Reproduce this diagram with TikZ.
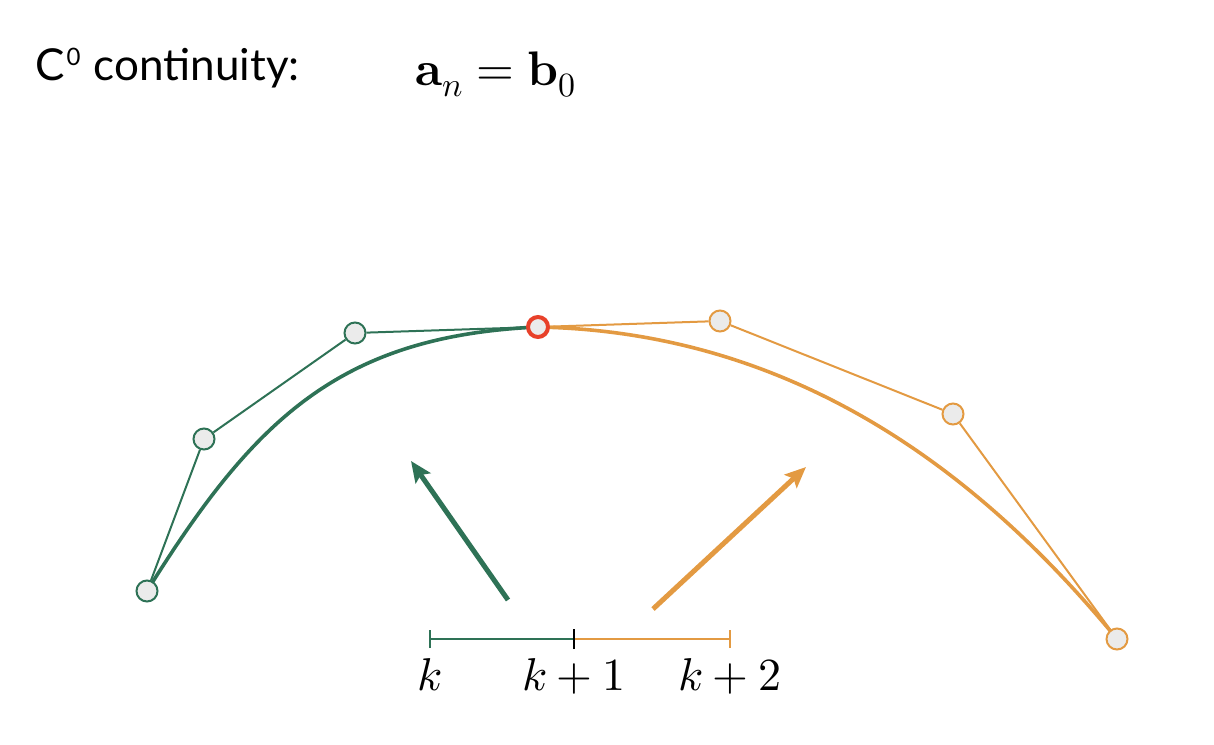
\documentclass[tikz,border=0pt]{standalone}
\usepackage{fontspec}
\setmainfont{Lato}
\usepackage{unicode-math}
\setmathfont{Latin Modern Math}
\usetikzlibrary{arrows.meta}
\definecolor{cgreen}{RGB}{46,114,86}
\definecolor{corange}{RGB}{227,154,66}
\definecolor{cred}{RGB}{232,65,42}
\definecolor{cfill}{RGB}{235,235,235}
\tikzset{
  ctrlpt/.style={circle,draw=#1,fill=cfill,line width=2pt,minimum size=21pt,inner sep=0pt},
  poly/.style={draw=#1,line width=2pt},
  curve/.style={draw=#1,line width=3.6pt},
  bigarrow/.style={draw=#1,line width=5pt,-{Stealth[length=21pt,width=18pt,inset=4pt]}},
  tl/.style={draw=#1,line width=1.5pt},
  tick/.style={draw=#1,line width=2pt},
  lbl/.style={font=\fontsize{46}{50}\selectfont,inner sep=0pt,anchor=base},
}
\begin{document}
\begin{tikzpicture}[x=1pt,y=-1pt]
\useasboundingbox (0,0) rectangle (1214,744);
% positions
\coordinate (pa0) at (147,591);
\coordinate (pa1) at (204,439);
\coordinate (pa2) at (355,333);
\coordinate (pm) at (538,327);
\coordinate (pb1) at (720,321);
\coordinate (pb2) at (953,414);
\coordinate (pb3) at (1117,639);
% curve handles
\coordinate (ha1) at (253,421);
\coordinate (ha2) at (338,336);
\coordinate (hb1) at (793,332);
\coordinate (hb2) at (978,470);
% curves
\path[curve=cgreen] (pa0) .. controls (ha1) and (ha2) .. (pm);
\path[curve=corange] (pm) .. controls (hb1) and (hb2) .. (pb3);
% control points
\node[ctrlpt=cgreen] (a0) at (pa0) {};
\node[ctrlpt=cgreen] (a1) at (pa1) {};
\node[ctrlpt=cgreen] (a2) at (pa2) {};
\node[ctrlpt=corange] (b1) at (pb1) {};
\node[ctrlpt=corange] (b2) at (pb2) {};
\node[ctrlpt=corange] (b3) at (pb3) {};
\node[ctrlpt=cred,line width=4pt,minimum size=20pt] (m) at (pm) {};
% control polygons
\path[poly=cgreen] (a0) -- (a1) -- (a2) -- (m);
\path[poly=corange] (m) -- (b1) -- (b2) -- (b3);
% arrows
\coordinate (ga0) at (508,600);
\coordinate (ga1) at (411,461);
\coordinate (oa0) at (653,609);
\coordinate (oa1) at (806,467);
\path[bigarrow=cgreen] (ga0) -- (ga1);
\path[bigarrow=corange] (oa0) -- (oa1);
% timeline
\coordinate (t0) at (430,639);
\coordinate (t1) at (574,639);
\coordinate (t2) at (730,639);
\path[tl=cgreen] (t0) -- (t1);
\path[tl=corange] (t1) -- (t2);
\path[tick=cgreen] ([yshift=-9pt]t0) -- ([yshift=9pt]t0);
\path[tick=black] ([yshift=-10pt]t1) -- ([yshift=10pt]t1);
\path[tick=corange] ([yshift=-9pt]t2) -- ([yshift=9pt]t2);
\node[lbl] (lk) at (430,690) {$k$};
\node[lbl] (lk1) at (574,690) {$k+1$};
\node[lbl] (lk2) at (730,690) {$k+2$};
% title
\node[font=\fontsize{44}{50}\selectfont,anchor=base west,inner sep=0pt] (title) at (35,80) {C\kern2pt\raisebox{15pt}{\fontsize{24}{24}\selectfont 0}\kern2pt{} continuity:};
\node[font=\fontsize{48.5}{52}\selectfont,anchor=base west,inner sep=0pt] (eq) at (415,85) {$\symbf{a}_n=\symbf{b}_0$};
\end{tikzpicture}
\end{document}
